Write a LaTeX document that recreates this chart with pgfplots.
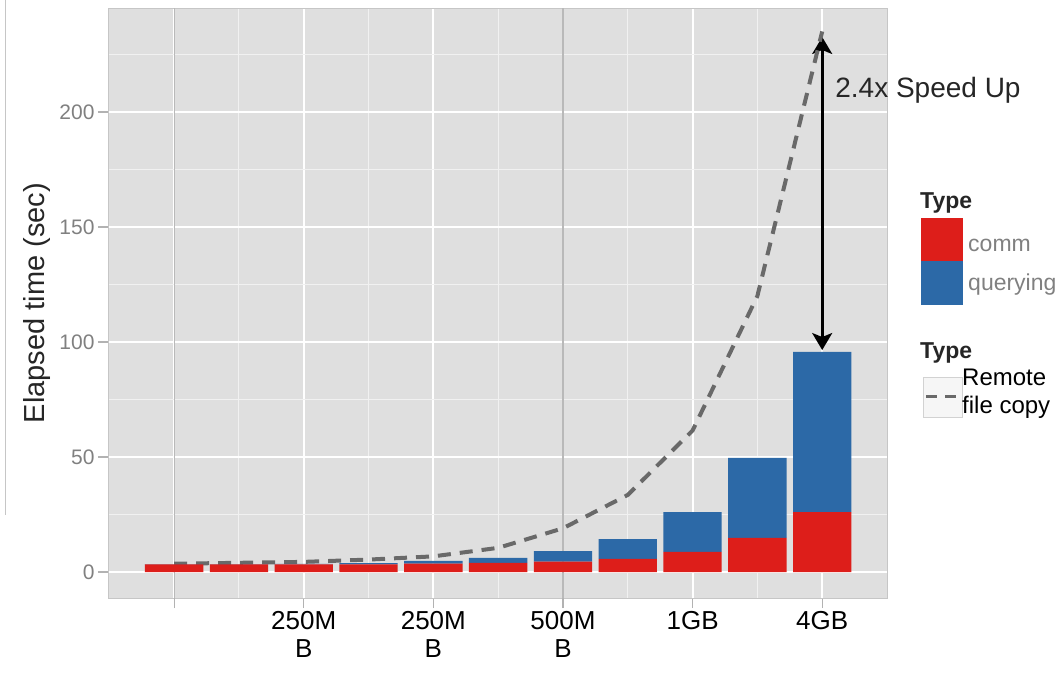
\documentclass[border=0pt]{standalone}
\usepackage{pgfplots}
\pgfplotsset{compat=1.18}
\usepackage{pgfplotstable}
\usepackage{fontspec}
\setmainfont{Liberation Sans}
\usetikzlibrary{arrows.meta}
\definecolor{ggbg}{RGB}{223,223,223}
\definecolor{commred}{RGB}{221,30,26}
\definecolor{qblue}{RGB}{44,105,167}
\definecolor{tickgray}{RGB}{128,128,128}
\definecolor{lineg}{RGB}{105,105,105}

\pgfplotstableread{
x comm querying
0 3.3 0.1
1 3.3 0.1
2 3.3 0.2
3 3.3 0.6
4 3.6 1.2
5 4.0 2.1
6 4.5 4.6
7 5.7 8.6
8 8.7 17.3
9 14.8 34.8
10 26.0 69.7
}\bardata

\pgfplotstableread{
x time
0 3.6
1 4.0
2 4.4
3 5.4
4 6.8
5 10.5
6 19.0
7 33.5
8 61.5
9 120
10 235
}\copydata

\begin{document}
\begin{tikzpicture}
\path[use as bounding box] (0,0) rectangle (1060pt,672pt);
\draw[gray!45, line width=1pt] (5pt,157pt) -- (5pt,672pt);
\begin{axis}[
  at={(108pt,74pt)}, anchor=south west,
  scale only axis, width=779pt, height=590pt,
  xmin=-1.02, xmax=11.0, ymin=-11.3, ymax=245.2,
  axis background/.style={fill=ggbg},
  axis line style={gray!45, line width=0.8pt},
  xtick pos=lower, ytick pos=left,
  xtick={0,2,4,6,8,10},
  xticklabels={{}, {250M\\B}, {250M\\B}, {500M\\B}, 1GB, 4GB},
  xticklabel style={align=center, font=\fontsize{26}{28}\selectfont, text=black},
  ytick={0,50,100,150,200},
  yticklabel style={font=\fontsize{21}{23}\selectfont, text=tickgray},
  /pgf/number format/assume math mode=true,
  minor xtick={1,3,5,7,9}, minor ytick={25,75,125,175,225},
  grid=both,
  major grid style={white, line width=2pt},
  minor grid style={white!55!ggbg, line width=1pt},
  extra x ticks={0,6}, extra x tick labels={},
  extra x tick style={xtick pos=lower, major grid style={gray!55, line width=1.2pt}},
  tick align=outside, major tick length=10pt, minor tick length=0pt,
  tick style={gray!60, line width=1.2pt},
  ylabel={Elapsed time (sec)},
  ylabel style={at={(axis description cs:-0.091,0.5)}, anchor=center, font=\fontsize{29}{31}\selectfont, text=black!85},
  ybar stacked, bar width=0.9,
  clip=false,
]
\addplot[fill=commred, draw=none] table[x=x, y=comm]{\bardata};
\addplot[fill=qblue, draw=none] table[x=x, y=querying]{\bardata};
\addplot[stack plots=false, sharp plot, no markers, draw=lineg, line width=4pt, dash pattern=on 13pt off 9pt] table[x=x, y=time]{\copydata};
\draw[{Stealth[length=17pt,width=20pt,inset=4pt]}-{Stealth[length=17pt,width=20pt,inset=4pt]}, line width=2.6pt, black] (axis cs:10,96.5) -- (axis cs:10,232.6);
\node[anchor=west, inner sep=0pt, font=\fontsize{28}{30}\selectfont, text=black!85] at (axis cs:10.2,209.6) {2.4x Speed Up};
\end{axis}
% legends
\node[anchor=west, inner sep=0pt, font=\bfseries\fontsize{23}{25}\selectfont, text=black!85] at (920pt,469pt) {Type};
\fill[commred] (921pt,454pt) rectangle (963pt,411pt);
\fill[qblue] (921pt,411pt) rectangle (963pt,367pt);
\node[anchor=west, inner sep=0pt, font=\fontsize{23}{25}\selectfont, text=tickgray] at (968pt,427pt) {comm};
\node[anchor=west, inner sep=0pt, font=\fontsize{23}{25}\selectfont, text=tickgray] at (968pt,387pt) {querying};
\node[anchor=west, inner sep=0pt, font=\bfseries\fontsize{23}{25}\selectfont, text=black!85] at (920pt,319pt) {Type};
\draw[fill=gray!7, draw=gray!35, line width=0.8pt] (923pt,295pt) rectangle (962pt,255pt);
\draw[lineg, line width=3pt, dash pattern=on 11pt off 8pt] (926pt,275pt) -- (960pt,275pt);
\node[anchor=west, inner sep=0pt, align=left, font=\fontsize{24}{28}\selectfont] at (962pt,278pt) {Remote\\file copy};
\end{tikzpicture}
\end{document}
